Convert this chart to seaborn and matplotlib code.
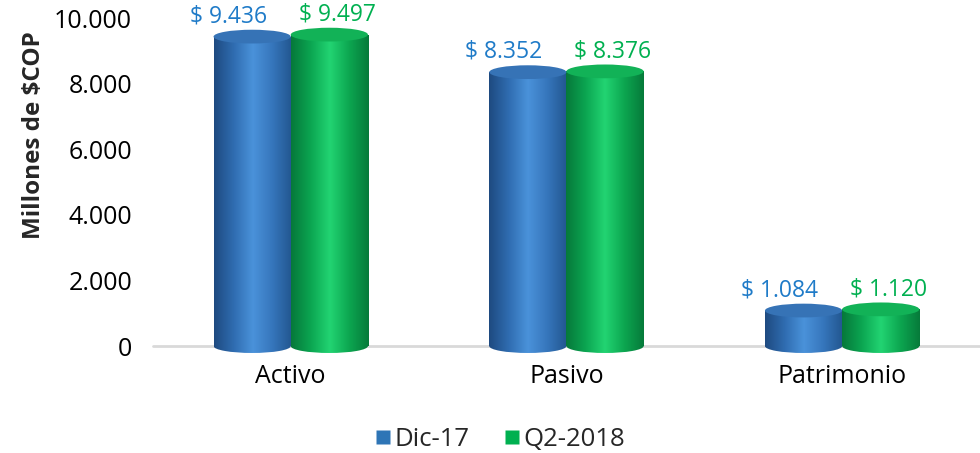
import numpy as np
import pandas as pd
import matplotlib
matplotlib.use("Agg")
import matplotlib.pyplot as plt
from matplotlib.colors import LinearSegmentedColormap
from matplotlib.patches import Rectangle, Ellipse
from matplotlib.lines import Line2D
import seaborn as sns

# Data (millones de $COP)
categories = ["Activo", "Pasivo", "Patrimonio"]
series = ["Dic-17", "Q2-2018"]
dic_17 = [9436, 8352, 1084]
q2_2018 = [9497, 8376, 1120]

colors = {"Dic-17": "#2E75B6", "Q2-2018": "#00B050"}
text_colors = {"Dic-17": "#1F7BC8", "Q2-2018": "#00B050"}
shades = {
    "Dic-17": ["#1E4A80", "#2F6CB0", "#4A92DA", "#3676BC", "#22568F"],
    "Q2-2018": ["#06783A", "#0BA551", "#22D472", "#0CA650", "#067A3A"],
}
cap_colors = {"Dic-17": "#3673B6", "Q2-2018": "#12B257"}
label_shift = {"Dic-17": -24, "Q2-2018": 8}  # px, keeps the two labels apart

df = pd.DataFrame({
    "categoria": categories * 2,
    "serie": [series[0]] * 3 + [series[1]] * 3,
    "valor": dic_17 + q2_2018,
})

sns.set_theme(style="white")
plt.rcParams["font.family"] = ["Open Sans", "DejaVu Sans"]

fig = plt.figure(figsize=(9.8, 4.53), dpi=100)
ax = fig.add_axes([0.156, 0.236, 0.844, 0.724])

sns.barplot(data=df, x="categoria", y="valor", hue="serie", palette=colors,
            width=0.56, gap=0, ax=ax, legend=False, errorbar=None)

ax.set_xlim(-0.5, 2.5)
ax.set_ylim(0, 10000)

cap_h = 420  # ellipse height in data units
grad = np.linspace(0, 1, 256).reshape(1, -1)

for i, bar in enumerate(ax.patches):
    serie = series[i // len(categories)]
    x0, w, h = bar.get_x(), bar.get_width(), bar.get_height()
    bar.set_alpha(0)
    cmap = LinearSegmentedColormap.from_list(serie, shades[serie])
    # body
    im = ax.imshow(grad, extent=[x0, x0 + w, 0, h], aspect="auto", cmap=cmap, zorder=3)
    im.set_clip_path(Rectangle((x0, 0), w, h, transform=ax.transData))
    # rounded bottom
    bottom = Ellipse((x0 + w / 2, 0), w, cap_h, transform=ax.transData)
    im2 = ax.imshow(grad, extent=[x0, x0 + w, -cap_h, cap_h], aspect="auto", cmap=cmap, zorder=3)
    im2.set_clip_path(bottom)
    im2.set_clip_box(fig.bbox)
    # top cap
    top = Ellipse((x0 + w / 2, h), w, cap_h, facecolor=cap_colors[serie],
                  edgecolor="none", zorder=4)
    ax.add_patch(top)
    val = f"{int(h):,}".replace(",", ".")
    ax.annotate(f"$ {val}", xy=(x0 + w / 2, h), xytext=(label_shift[serie] * 0.72, 6),
                textcoords="offset points", ha="center", va="bottom",
                color=text_colors[serie], fontsize=16.5, annotation_clip=False)

ax.set_xlim(-0.5, 2.5)
ax.set_ylim(0, 10000)

for s in ax.spines.values():
    s.set_visible(False)
ax.axhline(0, color="#D9D9D9", lw=2, zorder=1, clip_on=False)

ax.set_yticks(range(0, 10001, 2000))
ax.set_yticklabels([f"{v:,}".replace(",", ".") for v in range(0, 10001, 2000)])
ax.tick_params(axis="both", length=0, labelsize=18, colors="#000000")
ax.tick_params(axis="x", pad=13)
ax.tick_params(axis="y", pad=15)
ax.set_xlabel("")
ax.set_ylabel("Millones de $COP", fontsize=17.5, fontweight="bold")
ax.yaxis.set_label_coords(-0.129, 0.643)

handles = [Line2D([], [], marker="s", linestyle="none", markersize=10,
                  markerfacecolor=colors[s], markeredgecolor="none") for s in series]
fig.legend(handles, series, loc="center", bbox_to_anchor=(0.51, 0.03), ncol=2,
           frameon=False, fontsize=18.5, handletextpad=0.1, columnspacing=1.3,
           handlelength=0.7)

fig.savefig("out.png", dpi=100)
